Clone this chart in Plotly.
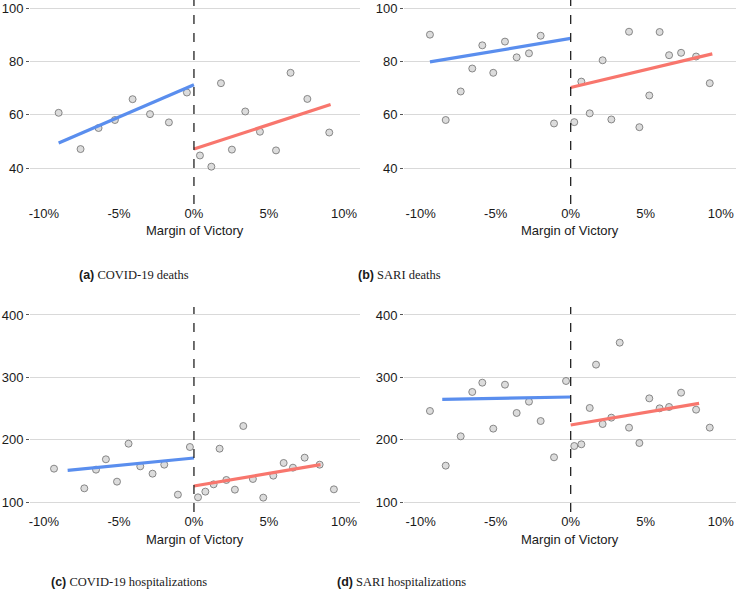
import plotly.graph_objects as go

# ---- data (margin of victory in %, outcome value) ----
a_x = [-9.02, -7.56, -6.36, -5.27, -4.09, -2.93, -1.67, -0.47,
       0.40, 1.16, 1.80, 2.53, 3.42, 4.40, 5.47, 6.44, 7.56, 9.02]
a_y = [60.7, 47.1, 55.0, 58.0, 65.8, 60.2, 57.1, 68.3,
       44.7, 40.5, 71.8, 46.9, 61.2, 53.6, 46.6, 75.7, 65.9, 53.3]
a_fit_left = ([-9.02, 0.0], [49.4, 71.2])
a_fit_right = ([0.0, 9.11], [47.1, 63.8])

b_x = [-9.38, -8.33, -7.33, -6.56, -5.89, -5.16, -4.38, -3.60, -2.78, -2.00, -1.11,
       0.24, 0.71, 1.27, 2.13, 2.71, 3.89, 4.58, 5.24, 5.93, 6.56, 7.36, 8.36, 9.27]
b_y = [90.0, 58.0, 68.7, 77.3, 86.0, 75.7, 87.4, 81.5, 83.0, 89.6, 56.7,
       57.2, 72.4, 60.5, 80.4, 58.2, 91.1, 55.3, 67.2, 91.0, 82.3, 83.2, 81.8, 71.8]
b_fit_left = ([-9.38, 0.0], [79.8, 88.6])
b_fit_right = ([0.0, 9.44], [70.2, 82.8])

c_x = [-9.33, -7.31, -6.53, -5.87, -5.13, -4.36, -3.58, -2.76, -1.98, -1.07, -0.27,
       0.27, 0.76, 1.31, 1.71, 2.16, 2.73, 3.29, 3.93, 4.62, 5.29, 5.98, 6.60, 7.38,
       8.38, 9.33]
c_y = [153.9, 122.4, 152.3, 168.9, 133.1, 193.9, 157.6, 145.9, 160.3, 112.3, 188.6,
       108.0, 117.1, 128.8, 185.9, 135.8, 120.3, 222.2, 137.4, 107.5, 142.7, 163.0,
       155.5, 171.5, 160.3, 120.8]
c_fit_left = ([-8.42, 0.0], [151.2, 171.0])
c_fit_right = ([0.0, 8.44], [126.2, 160.3])

d_x = [-9.38, -8.33, -7.33, -6.56, -5.89, -5.16, -4.38, -3.60, -2.78, -2.00, -1.11, -0.31,
       0.24, 0.71, 1.27, 1.69, 2.13, 2.71, 3.27, 3.89, 4.58, 5.24, 5.93, 6.56, 7.36,
       8.36, 9.27]
d_y = [246.3, 158.7, 205.7, 276.7, 291.6, 218.0, 288.4, 243.1, 261.2, 230.2, 172.1, 294.3,
       190.2, 192.9, 251.1, 320.5, 225.4, 235.6, 355.7, 219.6, 195.0, 266.5, 250.5, 252.7,
       275.6, 248.4, 219.6]
d_fit_left = ([-8.56, 0.0], [265.0, 268.7])
d_fit_right = ([0.0, 8.56], [223.8, 258.5])

captions = ["COVID-19 deaths", "SARI deaths",
            "COVID-19 hospitalizations", "SARI hospitalizations"]
letters = ["a", "b", "c", "d"]
x_ticks = [-10, -5, 0, 5, 10]
x_tick_labels = ["-10%", "-5%", "0%", "5%", "10%"]
y_ticks_deaths = [40, 60, 80, 100]
y_ticks_hosp = [100, 200, 300, 400]

W, H = 738, 591
BLUE = "#5A8EEE"
RED = "#F8766D"
SANS = "Liberation Sans, Arial, sans-serif"
SERIF = "Liberation Serif, Times New Roman, serif"

# panel plot areas in pixels (left, right, top, bottom)
panels = [
    dict(x=a_x, y=a_y, fl=a_fit_left, fr=a_fit_right, px=(30, 360), py=(0, 204),
         xr=[-10.93, 11.07], yr=[26.5, 103.0], yt=y_ticks_deaths),
    dict(x=b_x, y=b_y, fl=b_fit_left, fr=b_fit_right, px=(404, 736), py=(0, 204),
         xr=[-11.11, 11.02], yr=[26.5, 103.0], yt=y_ticks_deaths),
    dict(x=c_x, y=c_y, fl=c_fit_left, fr=c_fit_right, px=(30, 360), py=(307, 512),
         xr=[-10.93, 11.07], yr=[84.5, 412.8], yt=y_ticks_hosp),
    dict(x=d_x, y=d_y, fl=d_fit_left, fr=d_fit_right, px=(404, 736), py=(307, 512),
         xr=[-11.11, 11.02], yr=[84.5, 412.8], yt=y_ticks_hosp),
]
# caption positions (left x, centre y from top)
caption_pos = [(77, 275), (356, 275), (49, 582), (335, 582)]

fig = go.Figure()
layout = dict(
    width=W, height=H,
    margin=dict(l=0, r=0, t=0, b=0),
    paper_bgcolor="white", plot_bgcolor="white",
    showlegend=False,
    annotations=[], shapes=[],
)

for i, p in enumerate(panels):
    n = "" if i == 0 else str(i + 1)
    xa, ya = "x" + n, "y" + n

    # scatter points
    fig.add_trace(go.Scatter(
        x=p["x"], y=p["y"], mode="markers", xaxis=xa, yaxis=ya,
        marker=dict(size=7, color="#DCDCDC", line=dict(color="#6E6E6E", width=0.8)),
        hoverinfo="skip",
    ))
    # fitted lines
    fig.add_trace(go.Scatter(
        x=p["fl"][0], y=p["fl"][1], mode="lines", xaxis=xa, yaxis=ya,
        line=dict(color=BLUE, width=3.2), hoverinfo="skip",
    ))
    fig.add_trace(go.Scatter(
        x=p["fr"][0], y=p["fr"][1], mode="lines", xaxis=xa, yaxis=ya,
        line=dict(color=RED, width=3.2), hoverinfo="skip",
    ))

    layout["xaxis" + n] = dict(
        domain=[p["px"][0] / W, p["px"][1] / W],
        anchor=ya, range=p["xr"],
        tickvals=x_ticks, ticktext=x_tick_labels,
        ticks="",
        showgrid=False, zeroline=False, showline=False,
        tickfont=dict(family=SANS, size=13, color="#1a1a1a"),
    )
    layout["yaxis" + n] = dict(
        domain=[1 - p["py"][1] / H, 1 - p["py"][0] / H],
        anchor=xa, range=p["yr"],
        tickvals=p["yt"],
        ticks="outside", ticklen=3, tickcolor="#555555", tickwidth=1,
        showgrid=True, gridcolor="#D9D9D9", gridwidth=1.2,
        zeroline=False, showline=False,
        tickfont=dict(family=SANS, size=13, color="#1a1a1a"),
    )

    # vertical dashed cutoff
    layout["shapes"].append(dict(
        type="line", xref=xa, yref=ya + " domain", x0=0, x1=0, y0=0, y1=1,
        line=dict(color="#222222", width=1.3, dash="dash"),
    ))
    # x-axis title
    layout["annotations"].append(dict(
        text="Margin of Victory", xref=xa + " domain", yref=ya + " domain",
        x=0.5, y=0, yshift=-27, showarrow=False, xanchor="center", yanchor="middle",
        font=dict(family=SANS, size=13, color="#1a1a1a"),
    ))
    # caption
    cx, cy = caption_pos[i]
    layout["annotations"].append(dict(
        text=f"<span style='font-family:Liberation Sans, Arial'><b>({letters[i]})</b></span> {captions[i]}",
        xref="paper", yref="paper", x=cx / W, y=1 - cy / H,
        xanchor="left", yanchor="middle", showarrow=False,
        font=dict(family=SERIF, size=12.5, color="#1a1a1a"),
    ))

fig.update_layout(**layout)

# the page body has a default 8px margin; drop it so the figure fills the window
fig.write_html(
    "out.html",
    config={"displayModeBar": False},
    post_script="document.body.style.margin='0';",
)
